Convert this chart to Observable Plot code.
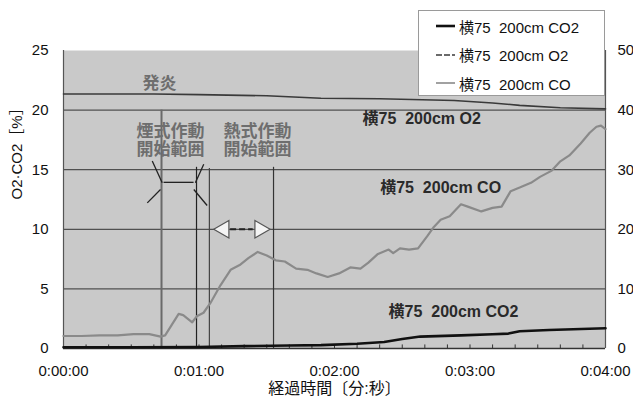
<!DOCTYPE html>
<html>
<head>
<meta charset="utf-8">
<script src="https://cdn.jsdelivr.net/npm/d3@7"></script>
<script src="https://cdn.jsdelivr.net/npm/@observablehq/plot@0.6"></script>
<style>
  body { margin: 0; background: #fff; }
  #wrap { position: relative; width: 633px; height: 403px; font-family: "Liberation Sans", "Noto Sans CJK JP", sans-serif; }
  #legend { position: absolute; left: 418px; top: 10px; width: 187px; height: 86px; background: #fff; border: 1px solid #9a9a9a; box-sizing: border-box; }
  .row { position: absolute; left: 17px; height: 20px; display: flex; align-items: center; font-size: 15px; color: #111; white-space: pre; }
  .sw { width: 19px; margin-right: 4px; }
</style>
</head>
<body>
<div id="wrap"></div>
<script>
// ---- data (time in seconds) ----
const coTime  = [0, 8, 16, 24, 31, 38, 43, 45, 48, 51, 53, 57, 59, 62, 65, 69.5, 74, 78, 82, 86, 90, 94, 98, 103, 108, 112, 117, 122, 127, 131.5, 135, 139, 144, 146, 149, 153, 157, 161, 164, 167, 171, 176, 179, 185, 190, 194, 198, 202, 207, 211, 216, 220, 224, 229, 233, 236, 238, 240];
// CO on right-axis scale (0–50)
const coValue = [2.1, 2.1, 2.2, 2.2, 2.4, 2.4, 2.0, 2.2, 4.0, 5.8, 5.6, 4.4, 5.4, 6.0, 7.6, 10.6, 13.2, 14.0, 15.2, 16.2, 15.6, 14.8, 14.6, 13.4, 13.2, 12.6, 12.0, 12.6, 13.6, 13.4, 14.4, 15.8, 16.6, 16.0, 16.8, 16.6, 16.8, 18.8, 20.4, 21.6, 22.2, 24.2, 23.8, 23.0, 23.6, 23.8, 26.4, 27.0, 27.8, 28.8, 29.8, 31.4, 32.4, 34.4, 36.2, 37.2, 37.4, 36.8];

const o2Time  = [0, 40, 60, 90, 114, 140, 173, 190, 202, 220, 240];
const o2Value = [21.35, 21.35, 21.3, 21.2, 21.0, 20.95, 20.8, 20.6, 20.4, 20.2, 20.1];

const co2Time  = [0, 30, 60, 80, 100, 114, 130, 142, 150, 158, 176, 190, 197, 202, 215, 240];
const co2Value = [0.1, 0.1, 0.12, 0.2, 0.25, 0.28, 0.4, 0.55, 0.8, 1.0, 1.1, 1.2, 1.25, 1.45, 1.55, 1.7];

const xTicks = [0, 60, 120, 180, 240];
const yTicks = [0, 5, 10, 15, 20, 25];
const gridY = [5, 10, 15, 20];
const minorTicks = d3.range(10, 240, 10);

// activation markers (time, top value, style)
const vlineTime = [43.4, 58.9, 64.6, 93];
const vlineTop  = [20, 15.2, 15.1, 15.2];
const vlineColor = ["#6a6a6a", "#222", "#444", "#333"];
const vlineWidth = [2, 1.2, 1.2, 1.2];

// smoke bracket strokes ">—<"
const bracketX1 = [39.3, 37.1, 44.3, 58.4, 57.7];
const bracketY1 = [15.73, 12.22, 13.94, 13.9, 13.34];
const bracketX2 = [43.7, 42.95, 57.6, 62.1, 63.6];
const bracketY2 = [13.9, 13.34, 13.94, 15.46, 12.0];

// heat range double arrow
const heatArrowTime = [71, 87];
const heatArrowDir = [-90, 90];
const heatArrowValue = 10;
const heatLine = [74, 84];

// labels
const labelText = ["横75  200cm O2", "横75  200cm CO", "横75  200cm CO2"];
const labelTime = [158.6, 167, 172.7];
const labelValue = [19.25, 13.5, 3.04];
const noteText = ["発炎", "煙式作動\n開始範囲", "熱式作動\n開始範囲"];
const noteTime = [42.5, 47.4, 85.9];
const noteValue = [22.3, 17.5, 17.5];

const legendNames = ["横75  200cm CO2", "横75  200cm O2", "横75  200cm CO"];

// ---- tables ----
const co = coTime.map((t, i) => ({t, v: coValue[i] / 2}));
const o2 = o2Time.map((t, i) => ({t, v: o2Value[i]}));
const co2 = co2Time.map((t, i) => ({t, v: co2Value[i]}));
const vlines = vlineTime.map((t, i) => ({t, top: vlineTop[i], c: vlineColor[i], w: vlineWidth[i]}));
const bracket = bracketX1.map((x1, i) => ({x1, y1: bracketY1[i], x2: bracketX2[i], y2: bracketY2[i]}));
const arrows = heatArrowTime.map((t, i) => ({t, v: heatArrowValue, r: heatArrowDir[i]}));
const labels = labelText.map((s, i) => ({s, t: labelTime[i], v: labelValue[i]}));
const notes = noteText.map((s, i) => ({s, t: noteTime[i], v: noteValue[i]}));

const fmt = t => `0:${String(Math.floor(t / 60)).padStart(2, "0")}:${String(t % 60).padStart(2, "0")}`;

const chart = Plot.plot({
  width: 633, height: 403,
  marginTop: 50, marginBottom: 55, marginLeft: 63, marginRight: 28,
  x: {domain: [0, 240]},
  y: {domain: [0, 25]},
  style: {fontFamily: '"Liberation Sans", "Noto Sans CJK JP", sans-serif', fontSize: "15px", background: "#fff", color: "#111"},
  marks: [
    Plot.frame({fill: "#c9c9c9", stroke: null}),
    Plot.ruleY(gridY, {stroke: "#505050", strokeWidth: 1.2}),
    Plot.ruleX([0], {stroke: "#555", strokeWidth: 1.2}),
    Plot.ruleX([240], {stroke: "#555", strokeWidth: 1.2}),
    Plot.ruleX(minorTicks, {y1: 0, y2: 0.3, stroke: "#333", strokeWidth: 1}),
    Plot.ruleX(vlines, {x: "t", y1: 0, y2: "top", stroke: "c", strokeWidth: "w"}),
    Plot.link(bracket, {x1: "x1", y1: "y1", x2: "x2", y2: "y2", stroke: "#222", strokeWidth: 1.3}),
    Plot.ruleY([heatArrowValue], {x1: heatLine[0], x2: heatLine[1], stroke: "#222", strokeWidth: 2, strokeDasharray: "6,3"}),
    Plot.dot(arrows, {x: "t", y: "v", symbol: "triangle", r: 6.5, rotate: "r", fill: "#f4f4f4", stroke: "#555", strokeWidth: 1.2}),
    Plot.line(co, {x: "t", y: "v", stroke: "#8a8a8a", strokeWidth: 2.2, curve: "linear"}),
    Plot.line(o2, {x: "t", y: "v", stroke: "#3a3a3a", strokeWidth: 1.6}),
    Plot.ruleY([0], {stroke: "#333", strokeWidth: 1.5}),
    Plot.line(co2, {x: "t", y: "v", stroke: "#111", strokeWidth: 2.6}),
    Plot.text(labels, {x: "t", y: "v", text: "s", fontSize: 16, fontWeight: "bold", fill: "#2a2a2a"}),
    Plot.text(notes, {x: "t", y: "v", text: "s", fontSize: 17, fontWeight: "bold", fill: "#6e6e6e", lineHeight: 1.1}),
    Plot.axisX({ticks: xTicks, tickFormat: fmt, tickSize: 0, tickPadding: 17, fontSize: 15, label: null}),
    Plot.axisY({anchor: "left", ticks: yTicks, tickSize: 0, tickPadding: 15, fontSize: 15, label: null}),
    Plot.axisY({anchor: "right", ticks: yTicks, tickFormat: d => d * 2, tickSize: 0, tickPadding: 12, fontSize: 15, label: null}),
    Plot.text(["経過時間〔分:秒〕"], {frameAnchor: "bottom", dy: 45, fontSize: 16, fill: "#111"}),
    Plot.text(["O2·CO2［%］"], {frameAnchor: "left", dx: -46, rotate: -90, fontSize: 15, fill: "#111"})
  ]
});

const wrap = document.getElementById("wrap");
wrap.appendChild(chart);

// legend overlay
const legend = document.createElement("div");
legend.id = "legend";
const swatches = [
  {stroke: "#111", w: 2.6, dash: null},
  {stroke: "#3a3a3a", w: 1.6, dash: "6,2"},
  {stroke: "#8a8a8a", w: 1.6, dash: null}
];
legendNames.forEach((name, i) => {
  const row = document.createElement("div");
  row.className = "row";
  row.style.top = (5 + i * 28.5) + "px";
  const s = swatches[i];
  row.innerHTML = `<svg class="sw" width="19" height="10"><line x1="0" x2="19" y1="5" y2="5" stroke="${s.stroke}" stroke-width="${s.w}" ${s.dash ? `stroke-dasharray="${s.dash}"` : ""}/></svg>`;
  const span = document.createElement("span");
  span.textContent = name;
  row.appendChild(span);
  legend.appendChild(row);
});
wrap.appendChild(legend);
</script>
</body>
</html>
